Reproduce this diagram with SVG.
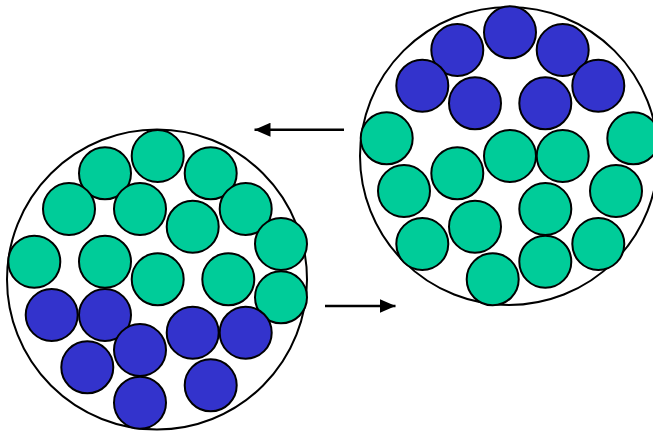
<svg xmlns="http://www.w3.org/2000/svg" width="653" height="432" viewBox="0 0 653 432">
<defs>
<style>
.big{fill:#ffffff;stroke:#000;stroke-width:2}
.g{fill:#00CC99;stroke:#000;stroke-width:2}
.b{fill:#3333CC;stroke:#000;stroke-width:2}
.conn line{stroke:#000;stroke-width:2.5}
</style>
<marker id="ah" viewBox="0 0 16 14" refX="16" refY="7" markerWidth="16" markerHeight="14" markerUnits="userSpaceOnUse" orient="auto">
<path d="M0,0 L16,7 L0,14 Z" fill="#000"/>
</marker>
</defs>
<rect width="653" height="432" fill="#fff"/>
<g id="left-container">
<circle class="big" cx="157" cy="279.5" r="150"/>
<circle class="g" cx="157.7" cy="156" r="26"/>
<circle class="g" cx="105" cy="173.3" r="26"/>
<circle class="g" cx="210.7" cy="173.3" r="26"/>
<circle class="g" cx="69" cy="209" r="26"/>
<circle class="g" cx="140" cy="209" r="26"/>
<circle class="g" cx="245.7" cy="209" r="26"/>
<circle class="g" cx="192.7" cy="226.7" r="26"/>
<circle class="g" cx="281" cy="244" r="26"/>
<circle class="g" cx="34.3" cy="261.7" r="26"/>
<circle class="g" cx="105" cy="261.7" r="26"/>
<circle class="g" cx="157.7" cy="279.3" r="26"/>
<circle class="g" cx="228.3" cy="279.3" r="26"/>
<circle class="g" cx="281" cy="297.3" r="26"/>
<circle class="b" cx="51.7" cy="315" r="26"/>
<circle class="b" cx="105" cy="315" r="26"/>
<circle class="b" cx="192.7" cy="332.7" r="26"/>
<circle class="b" cx="245.7" cy="332.7" r="26"/>
<circle class="b" cx="140" cy="350" r="26"/>
<circle class="b" cx="87.3" cy="367.3" r="26"/>
<circle class="b" cx="210.7" cy="385.3" r="26"/>
<circle class="b" cx="140" cy="402.7" r="26"/>
</g>
<g id="right-container">
<circle class="big" cx="509" cy="156" r="149"/>
<circle class="b" cx="510" cy="32.3" r="26"/>
<circle class="b" cx="457.3" cy="50" r="26"/>
<circle class="b" cx="562.7" cy="50" r="26"/>
<circle class="b" cx="422.3" cy="85.7" r="26"/>
<circle class="b" cx="598.3" cy="85.7" r="26"/>
<circle class="b" cx="475" cy="103.3" r="26"/>
<circle class="b" cx="545.3" cy="103.3" r="26"/>
<circle class="g" cx="386.7" cy="138.3" r="26"/>
<circle class="g" cx="633.3" cy="138.3" r="26"/>
<circle class="g" cx="510" cy="156" r="26"/>
<circle class="g" cx="562.7" cy="156" r="26"/>
<circle class="g" cx="457.3" cy="173.3" r="26"/>
<circle class="g" cx="404" cy="191" r="26"/>
<circle class="g" cx="616" cy="191" r="26"/>
<circle class="g" cx="545.3" cy="209" r="26"/>
<circle class="g" cx="475" cy="226.7" r="26"/>
<circle class="g" cx="422.3" cy="244" r="26"/>
<circle class="g" cx="598.3" cy="244" r="26"/>
<circle class="g" cx="545.3" cy="261.7" r="26"/>
<circle class="g" cx="492.7" cy="279.3" r="26"/>
</g>
<g id="connectors" class="conn">
<line x1="344" y1="129.7" x2="254.5" y2="129.7" marker-end="url(#ah)"/>
<line x1="325" y1="306" x2="395.5" y2="306" marker-end="url(#ah)"/>
</g>
</svg>
